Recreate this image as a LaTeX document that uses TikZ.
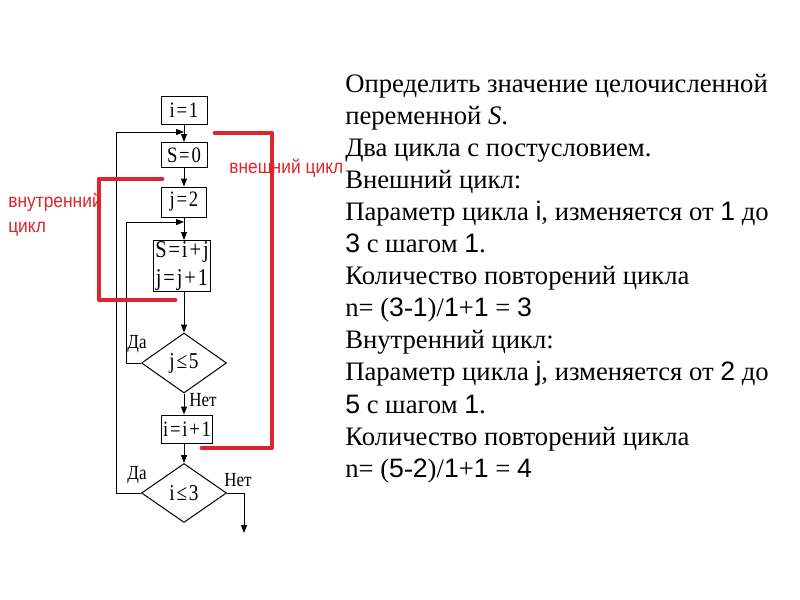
\documentclass[tikz,border=0pt]{standalone}
\usepackage{fontspec}
\setmainfont{Liberation Serif}
\setsansfont{Liberation Sans}
\newfontfamily\bxf[FakeStretch=0.85]{Liberation Serif}
\newfontfamily\rdf[FakeStretch=0.9]{Liberation Sans}
\usetikzlibrary{shapes.geometric,arrows.meta}
\definecolor{redline}{RGB}{220,38,44}
\newcommand{\ls}[1]{{\sffamily #1}}
\newcommand{\hs}{\hspace{0.08em}}
\begin{document}
\begin{tikzpicture}[x=0.75pt,y=-0.75pt,
  blk/.style={draw,line width=0.75pt,rectangle,inner sep=0pt,font=\bxf\fontsize{16.5}{21}\selectfont,align=center},
  dia/.style={draw,line width=0.75pt,diamond,inner sep=0pt,font=\bxf\fontsize{17}{18}\selectfont},
  flow/.style={line width=0.75pt,-{Triangle[length=6pt,width=4.5pt]}},
  lbl/.style={font=\bxf\fontsize{15}{17}\selectfont,inner sep=0pt},
  redp/.style={draw=redline,line width=3.6pt,line cap=round,line join=round},
  redt/.style={text=redline,font=\rdf\fontsize{14.5}{16}\selectfont,inner sep=0pt},
  txt/.style={anchor=base west,inner sep=0pt,font=\fontsize{20}{24}\selectfont}]
\useasboundingbox (0,0) rectangle (800,600);
\fill[white] (0,0) rectangle (800,600);

% flowchart
\node[blk,minimum width=34.5pt,minimum height=21pt] (b1) at (184,110) {i\hs=\hs1};
\node[blk,minimum width=34.5pt,minimum height=18.75pt] (b2) at (184,155) {S\hs=\hs0};
\node[blk,minimum width=33.75pt,minimum height=22.5pt] (b3) at (184,202) {j\hs=\hs2};
\node[blk,minimum width=43pt,minimum height=38.25pt,font=\bxf\fontsize{18}{21}\selectfont] (b4) at (182,266) {S\hs=\hs i\hs+\hs j\\ j\hs=\hs j\hs+\hs1};
\node[dia,minimum width=63.75pt,minimum height=45pt] (d1) at (184,363) {j\hs≤\hs5};
\node[blk,minimum width=38.25pt,minimum height=21pt] (b5) at (187,429) {i\hs=\hs i\hs+\hs1};
\node[dia,minimum width=63.75pt,minimum height=44.25pt] (d2) at (184,493) {i\hs≤\hs3};

\coordinate (m1) at (184,132);
\coordinate (m2) at (184,222);
\coordinate (out) at (244,533);

\draw[flow] (b1.south) -- (b2.north);
\draw[flow] (b2.south) -- (b3.north);
\draw[flow] (b3.south) -- (b3.south |- b4.north);
\draw[flow] (b4.south -| d1.north) -- (d1.north);
\draw[flow] (d1.south) -- (d1.south |- b5.north);
\draw[flow] (b5.south -| d2.north) -- (d2.north);
\draw[flow] (d1.west) -- (126,363) |- (m2);
\draw[flow] (d2.west) -- (116,493) |- (m1);
\draw[flow] (d2.east) -- (out |- d2.east) -- (out);

\node[lbl] (da1) at (137,344) {Да};
\node[lbl] (net1) at (203,400) {Нет};
\node[lbl] (da2) at (137,475) {Да};
\node[lbl] (net2) at (238,480) {Нет};

% red loop markers
\draw[redp] (215,133) -- (272,133) -- (272,448) -- (202,448);
\draw[redp] (162,179) -- (99,179) -- (99,300) -- (175,300);
\node[redt,anchor=mid west] (rl1) at (229,170) {внешний цикл};
\node[redt,anchor=mid west] (rl2) at (8,204) {внутренний};
\node[redt,anchor=mid west] (rl3) at (8,229) {цикл};

% text
\node[txt] (t1) at (345,92) {Определить значение целочисленной};
\node[txt] (t2) at (345,124.1) {переменной \textit{S}.};
\node[txt] (t3) at (345,156.2) {Два цикла с постусловием.};
\node[txt] (t4) at (345,188.3) {Внешний цикл:};
\node[txt] (t5) at (345,220.4) {Параметр цикла \ls{i}, изменяется от \ls{1} до};
\node[txt] (t6) at (345,252.5) {\ls{3} с шагом \ls{1}.};
\node[txt] (t7) at (345,284.6) {Количество повторений цикла};
\node[txt] (t8) at (345,316.7) {n= (\ls{3}-\ls{1})/\ls{1}+\ls{1} = \ls{3}};
\node[txt] (t9) at (345,348.8) {Внутренний цикл:};
\node[txt] (t10) at (345,380.9) {Параметр цикла \ls{j}, изменяется от \ls{2} до};
\node[txt] (t11) at (345,413) {\ls{5} с шагом \ls{1}.};
\node[txt] (t12) at (345,445.1) {Количество повторений цикла};
\node[txt] (t13) at (345,477.2) {n= (\ls{5}-\ls{2})/\ls{1}+\ls{1} = \ls{4}};
\end{tikzpicture}
\end{document}
